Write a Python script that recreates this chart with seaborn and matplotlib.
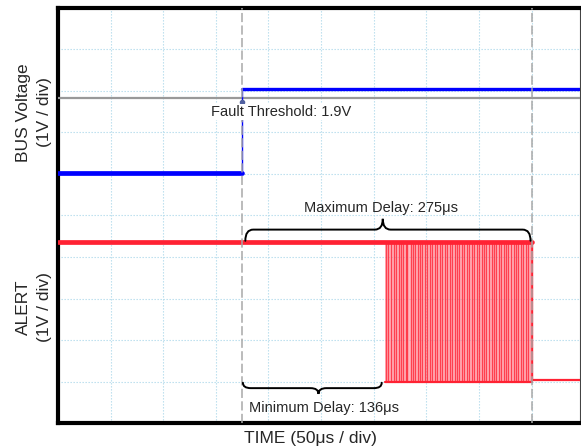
import numpy as np
import pandas as pd
import matplotlib
matplotlib.use("Agg")
import matplotlib.pyplot as plt
from matplotlib.path import Path
from matplotlib.patches import PathPatch
import seaborn as sns

# time in microseconds relative to the fault trigger, levels in screen divisions
T_START = -175.0
T_END = 321.0
MIN_DELAY = 136.0
MAX_DELAY = 275.0

BUS_LOW = 6.03
BUS_HIGH = 8.05
FAULT_THRESHOLD = 7.84
ALERT_HIGH = 4.35
ALERT_LOW_BURST = 0.98
ALERT_LOW = 1.04

bus_low_t = [T_START, 0.0]
bus_high_t = [0.0, T_END]
alert_high_t = [T_START, MAX_DELAY]
alert_low_t = [MAX_DELAY, T_END]
burst_t = [MIN_DELAY, MAX_DELAY]

# ALERT toggle edges seen during the burst
pulse_times = [137, 139, 141.5, 144, 146, 149, 150.5, 153, 155.5, 157, 160, 162,
               164.5, 167, 168.5, 171, 174, 176, 178.5, 180, 183, 185.5, 188, 190,
               192.5, 195, 197, 199.5, 202, 204, 206.5, 209, 211, 213.5, 216, 218,
               220.5, 223, 225, 227.5, 230, 232, 234.5, 237, 239, 241.5, 244, 246,
               248.5, 251, 253, 255.5, 258, 260, 262.5, 265, 267, 269.5, 272, 274]

BLUE = "#0000ff"
RED = "#ff2233"


def brace(ax, x0, x1, xc, y_end, y_flat, y_tip, rx=7.5):
    verts = [(x0, y_end), (x0, y_flat), (x0 + rx, y_flat),
             (xc - rx, y_flat),
             (xc, y_flat), (xc, y_tip),
             (xc, y_flat), (xc + rx, y_flat),
             (x1 - rx, y_flat),
             (x1, y_flat), (x1, y_end)]
    codes = [Path.MOVETO, Path.CURVE3, Path.CURVE3,
             Path.LINETO,
             Path.CURVE3, Path.CURVE3,
             Path.CURVE3, Path.CURVE3,
             Path.LINETO,
             Path.CURVE3, Path.CURVE3]
    ax.add_patch(PathPatch(Path(verts, codes), fc="none", ec="black", lw=1.4,
                           zorder=6, capstyle="round"))


sns.set_style("white")
plt.rcParams["font.family"] = ["Liberation Sans", "DejaVu Sans"]

fig = plt.figure(figsize=(5.81, 4.48), dpi=100)
ax = fig.add_axes([58 / 581, 1 - 423 / 448, (580 - 58) / 581, (423 - 8) / 448])

# BUS voltage trace
sns.lineplot(x=bus_low_t, y=[BUS_LOW] * 2, ax=ax, color=BLUE, lw=3.4, zorder=4)
sns.lineplot(x=bus_high_t, y=[BUS_HIGH] * 2, ax=ax, color=BLUE, lw=2.4, zorder=4)
ax.vlines(0.0, BUS_LOW, BUS_HIGH, color=BLUE, lw=1.0, zorder=4)

# ALERT trace
burst = pd.DataFrame({"t": pulse_times})
ax.fill_between(burst_t, ALERT_LOW_BURST, ALERT_HIGH, color="#ff8a95", alpha=0.6,
                lw=0, zorder=2)
ax.vlines(burst["t"], ALERT_LOW_BURST, ALERT_HIGH, color=RED, lw=1.0, alpha=0.8,
          zorder=3)
sns.lineplot(x=burst_t, y=[ALERT_LOW_BURST] * 2, ax=ax, color=RED, lw=1.6, zorder=4)
sns.lineplot(x=alert_high_t, y=[ALERT_HIGH] * 2, ax=ax, color=RED, lw=3.4, zorder=4)
sns.lineplot(x=alert_low_t, y=[ALERT_LOW] * 2, ax=ax, color=RED, lw=1.6, zorder=4)
ax.vlines(MAX_DELAY, ALERT_LOW, ALERT_HIGH, color=RED, lw=1.0, zorder=4)

# threshold and markers
ax.axhline(FAULT_THRESHOLD, color="#999999", lw=1.6, zorder=3)
for t in [0.0, MAX_DELAY]:
    ax.axvline(t, color="#a8a8a8", lw=1.1, dashes=(6, 2.2), zorder=5)
ax.plot([0.0], [7.74], marker="o", ms=3, color="#5060a0", zorder=6)

ax.text(36.6, 7.50, "Fault Threshold: 1.9V", ha="center", va="center", fontsize=10.5,
        zorder=7, bbox=dict(fc="white", ec="none", pad=0.6))

brace(ax, 3.0, 274.0, 133.6, 4.39, 4.66, 4.92)
ax.text(132.0, 5.19, "Maximum Delay: " + str(int(MAX_DELAY)) + "\u03bcs", ha="center",
        va="center", fontsize=10.5, zorder=7)
brace(ax, 0.7, 132.6, 72.5, 0.97, 0.84, 0.70)
ax.text(78.0, 0.36, "Minimum Delay: " + str(int(MIN_DELAY)) + "\u03bcs", ha="center",
        va="center", fontsize=10.5, zorder=7)

# scope graticule
ax.set_xlim(T_START, T_END)
ax.set_ylim(0, 10)
ax.set_xticks(np.arange(-125, T_END, 50))
ax.set_yticks(np.arange(1, 10))
ax.tick_params(length=0, labelbottom=False, labelleft=False)
ax.grid(True, color="#b5dcec", lw=0.8, ls=(0, (1.2, 1.5)), zorder=0)
ax.set_axisbelow(True)
for side in ["left", "top", "bottom"]:
    ax.spines[side].set_color("black")
    ax.spines[side].set_linewidth(3.0)
ax.spines["right"].set_color("#444444")
ax.spines["right"].set_linewidth(0.8)

fig.text(34 / 581, 1 - 112.5 / 448, "BUS Voltage\n(1V / div)", rotation=90,
         ha="center", va="center", fontsize=12.5, linespacing=1.5)
fig.text(34 / 581, 1 - 307.5 / 448, "ALERT\n(1V / div)", rotation=90,
         ha="center", va="center", fontsize=12.5, linespacing=1.5)
fig.text(310 / 581, 1 - 438 / 448, "TIME (50\u03bcs / div)", ha="center", va="center",
         fontsize=12.5)

fig.savefig("out.png", dpi=100)
